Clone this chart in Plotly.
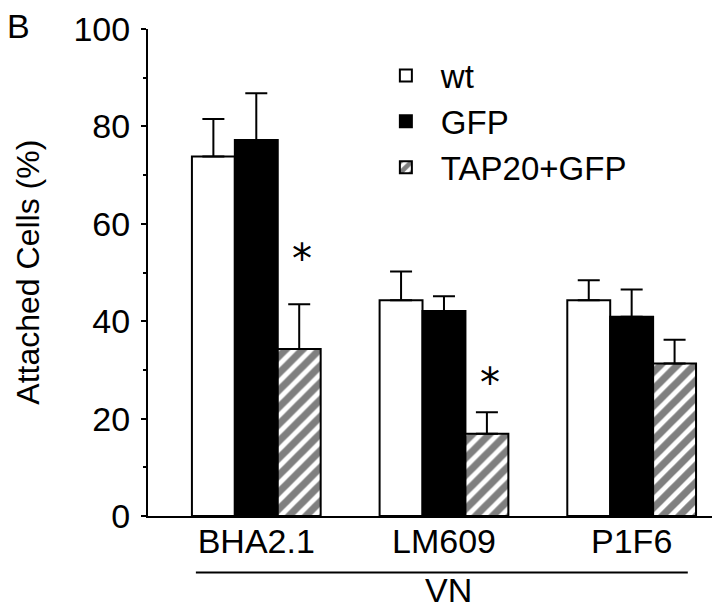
import plotly.graph_objects as go

categories = ["BHA2.1", "LM609", "P1F6"]
series_names = ["wt", "GFP", "TAP20+GFP"]
wt_vals = [73.8, 44.3, 44.3]
wt_err = [7.7, 5.9, 4.1]
gfp_vals = [77.2, 42.1, 40.9]
gfp_err = [9.6, 3.0, 5.6]
tap_vals = [34.3, 16.9, 31.3]
tap_err = [9.2, 4.4, 4.9]
sig_categories = ["BHA2.1", "LM609"]
sig_y = [52.8, 27.4]
y_ticks = [0, 20, 40, 60, 80, 100]

FONT = "Liberation Sans, Arial, Helvetica, sans-serif"

def err(a):
    return dict(type="data", array=a, arrayminus=[0] * len(a), symmetric=False,
                color="black", thickness=2, width=11, visible=True)

fig = go.Figure()
fig.add_trace(go.Bar(name=series_names[0], x=categories, y=wt_vals, error_y=err(wt_err),
                     legendgroup="a",
                     marker=dict(color="white", line=dict(color="black", width=2))))
fig.add_trace(go.Bar(name=series_names[1], x=categories, y=gfp_vals, error_y=err(gfp_err),
                     legendgroup="b",
                     marker=dict(color="black", line=dict(color="black", width=2))))
fig.add_trace(go.Bar(name=series_names[2], x=categories, y=tap_vals, error_y=err(tap_err),
                     legendgroup="c",
                     marker=dict(color="white", line=dict(color="black", width=2),
                                 pattern=dict(shape="/", fgcolor="black", bgcolor="white",
                                              size=12, solidity=0.6))))

for c, yv in zip(sig_categories, sig_y):
    fig.add_annotation(x=c, y=yv, xref="x", yref="y", text="*", showarrow=False,
                       xshift=46, font=dict(family="DejaVu Sans, sans-serif", size=40, color="black"),
                       yanchor="middle")

fig.add_annotation(x=-0.228, y=1.007, xref="paper", yref="paper", xanchor="center", yanchor="middle",
                   text="B", showarrow=False, font=dict(family=FONT, size=34, color="black"))
fig.add_annotation(x=-0.212, y=0.5, xref="paper", yref="paper", xanchor="center", yanchor="middle",
                   text="Attached Cells (%)", textangle=-90, showarrow=False,
                   font=dict(family=FONT, size=32, color="black"))
fig.add_annotation(x=0.528, y=-0.152, xref="paper", yref="paper", xanchor="center", yanchor="middle",
                   text="VN", showarrow=False, font=dict(family=FONT, size=34, color="black"))
fig.add_shape(type="line", xref="paper", yref="paper", x0=0.084, x1=0.947, y0=-0.116, y1=-0.116,
              line=dict(color="black", width=2))

fig.update_layout(
    width=712, height=597,
    margin=dict(l=140, r=2, t=16, b=89),
    paper_bgcolor="white", plot_bgcolor="white",
    barmode="group", bargap=0.314, bargroupgap=0.0,
    font=dict(family=FONT, color="black"),
    showlegend=True,
    legend=dict(x=0.391, y=0.962, xanchor="left", yanchor="top", bgcolor="rgba(0,0,0,0)",
                itemwidth=60,
                font=dict(family=FONT, size=33, color="black"), tracegroupgap=0),
    xaxis=dict(range=[-0.577, 2.46], showline=True, linecolor="black", linewidth=2,
               ticks="", tickfont=dict(family=FONT, size=34, color="black"), showgrid=False,
               zeroline=False, ticklabelstandoff=-6),
    yaxis=dict(range=[0, 100], tickvals=y_ticks, showline=True, linecolor="black", linewidth=2,
               ticks="outside", ticklen=5, tickwidth=2, tickcolor="black",
               ticklabeloverflow="allow", ticklabelstandoff=4,
               minor=dict(dtick=10, ticks="outside", ticklen=3, tickwidth=2, tickcolor="black"),
               tickfont=dict(family=FONT, size=34, color="black"), showgrid=False, zeroline=False),
)

fig.write_html("out.html")
